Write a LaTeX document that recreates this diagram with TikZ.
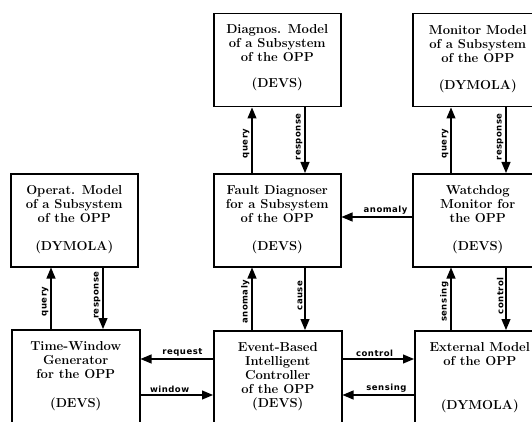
\documentclass[tikz,border=0pt]{standalone}
\usepackage{fontspec}
\usetikzlibrary{arrows.meta}
\newfontfamily\lblfont[LetterSpace=6]{DejaVu Sans}
\tikzset{
  box/.style={draw, line width=1.5pt, anchor=north west, minimum width=127pt, minimum height=93pt, inner sep=0pt},
  boxtext/.style={anchor=north, align=center, inner sep=0pt, font=\fontsize{13}{14}\selectfont\bfseries},
  arr/.style={line width=1.1pt, -{Triangle[width=9pt,length=11pt]}},
  lbl/.style={font=\lblfont\bfseries\fontsize{8.5}{10}\selectfont, inner sep=2pt},
  vlbl/.style={lbl, rotate=90, anchor=south, pos=0.45},
}
\begin{document}
\begin{tikzpicture}[x=1pt,y=-1pt]
\useasboundingbox (0,0) rectangle (532,422);
\clip (0,0) rectangle (532,422);
% boxes
\node[box] (opm) at (10,173) {};
\node[box] (diag) at (213,13) {};
\node[box, minimum width=130pt] (mon) at (412,13) {};
\node[box] (fd) at (213,173) {};
\node[box, minimum width=130pt] (wd) at (412,173) {};
\node[box, minimum width=128pt, minimum height=100pt] (tw) at (11,329) {};
\node[box, minimum width=128pt, minimum height=100pt] (ebc) at (213,330) {};
\node[box, minimum width=130pt, minimum height=100pt] (ext) at (414,330) {};
% texts
\node[boxtext] (opmT) at ([yshift=-12pt]opm.north) {Operat. Model\\of a Subsystem\\of the OPP\\[14pt](DYMOLA)};
\node[boxtext] (diagT) at ([yshift=-11pt]diag.north) {Diagnos. Model\\of a Subsystem\\of the OPP\\[12pt](DEVS)};
\node[boxtext] (monT) at ([yshift=-12pt]mon.north) {Monitor Model\\of a Subsystem\\of the OPP\\[13pt](DYMOLA)};
\node[boxtext] (fdT) at ([yshift=-12pt]fd.north) {Fault Diagnoser\\for a Subsystem\\of the OPP\\[14pt](DEVS)};
\node[boxtext] (wdT) at ([yshift=-12pt]wd.north) {Watchdog\\Monitor for\\the OPP\\[14pt](DEVS)};
\node[boxtext] (twT) at ([yshift=-12pt]tw.north) {Time-Window\\Generator\\for the OPP\\[15pt](DEVS)};
\node[boxtext] (ebcT) at ([yshift=-12pt]ebc.north) {Event-Based\\Intelligent\\Controller\\of the OPP\\(DEVS)};
\node[boxtext] (extT) at ([yshift=-12pt]ext.north) {External Model\\of the OPP\\[30pt](DYMOLA)};
% columns and rows
\coordinate (xa) at (51,0);
\coordinate (xb) at (103,0);
\coordinate (xc) at (252,0);
\coordinate (xd) at (305,0);
\coordinate (xe) at (451,0);
\coordinate (xf) at (506,0);
\coordinate (ya) at (0,217);
\coordinate (yb) at (0,359);
\coordinate (yc) at (0,395);
% vertical connectors
\draw[arr] (tw.north -| xa) -- (opm.south -| xa) node[vlbl] (l1) {query};
\draw[arr] (opm.south -| xb) -- (tw.north -| xb) node[vlbl] (l2) {response};
\draw[arr] (fd.north -| xc) -- (diag.south -| xc) node[vlbl] (l3) {query};
\draw[arr] (diag.south -| xd) -- (fd.north -| xd) node[vlbl] (l4) {response};
\draw[arr] (wd.north -| xe) -- (mon.south -| xe) node[vlbl] (l5) {query};
\draw[arr] (mon.south -| xf) -- (wd.north -| xf) node[vlbl] (l6) {response};
\draw[arr] (ebc.north -| xc) -- (fd.south -| xc) node[vlbl] (l7) {anomaly};
\draw[arr] (fd.south -| xd) -- (ebc.north -| xd) node[vlbl] (l8) {cause};
\draw[arr] (ext.north -| xe) -- (wd.south -| xe) node[vlbl] (l9) {sensing};
\draw[arr] (wd.south -| xf) -- (ext.north -| xf) node[vlbl] (l10) {control};
% horizontal connectors
\draw[arr] (wd.west |- ya) -- (fd.east |- ya) node[lbl, pos=0, anchor=south east, xshift=-2pt] (l11) {anomaly};
\draw[arr] (ebc.west |- yb) -- (tw.east |- yb) node[lbl, pos=0, anchor=south east, xshift=-8pt] (l12) {request};
\draw[arr] (tw.east |- yc) -- (ebc.west |- yc) node[lbl, pos=0, anchor=south west, xshift=7pt] (l13) {window};
\draw[arr] (ebc.east |- yb) -- (ext.west |- yb) node[lbl, pos=0, anchor=south west, xshift=11pt] (l14) {control};
\draw[arr] (ext.west |- yc) -- (ebc.east |- yc) node[lbl, pos=0, anchor=south east, xshift=-5pt] (l15) {sensing};
\end{tikzpicture}
\end{document}
